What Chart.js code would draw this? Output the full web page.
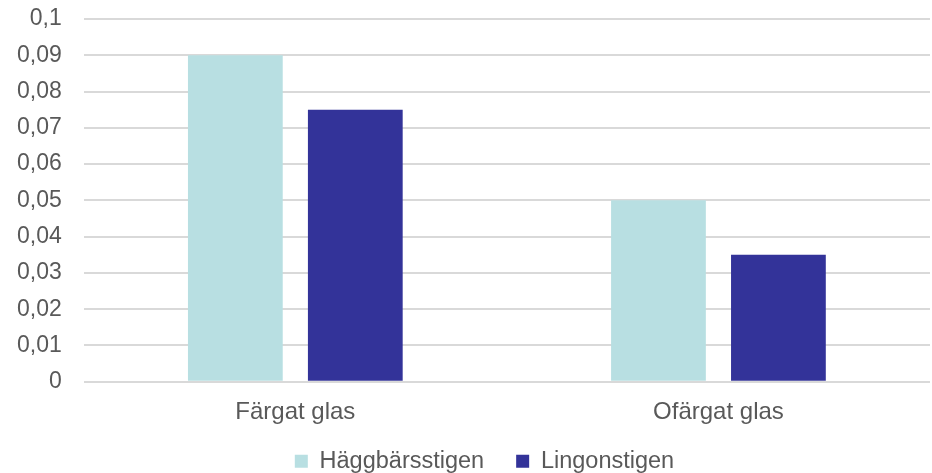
<!DOCTYPE html>
<html>
<head>
<meta charset="utf-8">
<script src="https://cdn.jsdelivr.net/npm/chart.js@4/dist/chart.umd.min.js"></script>
<style>
  html, body { margin: 0; padding: 0; background: #fff; }
  #chart-con { width: 932px; height: 473px; }
</style>
</head>
<body>
<div id="chart-con"><canvas id="my-chart"></canvas></div>
<script>
const categories = ['Färgat glas', 'Ofärgat glas'];
const seriesNames = ['Häggbärsstigen', 'Lingonstigen'];
const haggbarValues = [0.09, 0.05];
const lingonValues = [0.075, 0.035];
const yTickLabels = ['0', '0,01', '0,02', '0,03', '0,04', '0,05', '0,06', '0,07', '0,08', '0,09', '0,1'];

const textColor = '#595959';
const fontFamily = '"Liberation Sans", Arial, sans-serif';

Chart.defaults.animation = false;
Chart.defaults.font.family = fontFamily;
Chart.defaults.color = textColor;

// nudge the legend to where it sits in the original
const legendShift = {
    id: 'legendShift',
    afterLayout(chart) {
        chart.legend.left += 22;
        chart.legend.right += 22;
        chart.legend.top -= 17;
        chart.legend.bottom -= 17;
    }
};

const data = {
    labels: categories,
    datasets: [{
        label: seriesNames[0],
        backgroundColor: '#B8DFE2',
        data: haggbarValues,
        barPercentage: 0.79,
        categoryPercentage: 0.567
    }, {
        label: seriesNames[1],
        backgroundColor: '#333399',
        data: lingonValues,
        barPercentage: 0.79,
        categoryPercentage: 0.567
    }]
};

const config = {
    type: 'bar',
    data,
    plugins: [legendShift],
    options: {
        responsive: true,
        maintainAspectRatio: false,
        layout: {
            padding: { top: 19, right: 2, left: -5, bottom: -27 }
        },
        plugins: {
            legend: {
                display: true,
                position: 'bottom',
                labels: {
                    boxWidth: 13,
                    boxHeight: 13,
                    padding: 32,
                    font: { size: 23.5 },
                    color: textColor
                }
            },
            tooltip: { enabled: false }
        },
        scales: {
            x: {
                grid: { display: false },
                border: { display: false },
                ticks: { font: { size: 24 }, color: textColor, padding: 8 }
            },
            y: {
                min: 0,
                max: 0.1,
                grid: { color: '#D9D9D9', lineWidth: 2, drawTicks: false },
                border: { display: false },
                ticks: {
                    stepSize: 0.01,
                    padding: 22,
                    font: { size: 23 },
                    color: textColor,
                    callback: (value, index) => yTickLabels[index]
                },
                afterFit: (scale) => { scale.paddingTop = 0; }
            }
        }
    }
};

var myChart = new Chart(
    document.getElementById('my-chart').getContext('2d'),
    config
);
</script>
</body>
</html>
